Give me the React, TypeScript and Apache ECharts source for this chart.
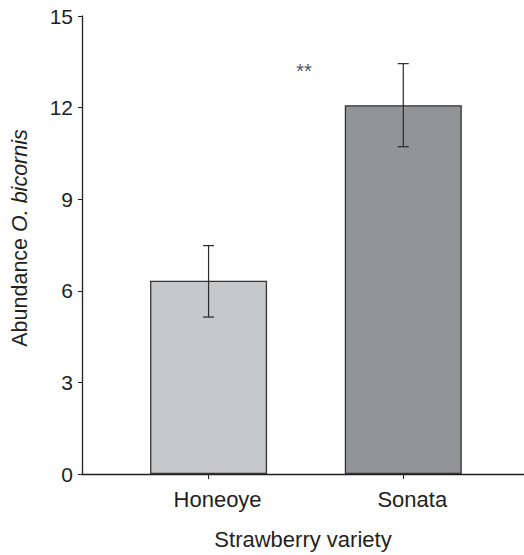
import React, { useEffect, useRef } from "react";
import * as echarts from "echarts";

const categories = ["Honeoye", "Sonata"];
const positions = [1, 2];
const means = [6.33, 12.08];
const errLow = [5.14, 10.72];
const errHigh = [7.48, 13.44];
const barColors = ["#c7c8ca", "#939498"];
const yTicks = { min: 0, max: 15, interval: 3 };
const significance = [[1.49, 13.2]];
const significanceLabel = "**";

const FONT = "Liberation Sans, Arial, Helvetica, sans-serif";
const INK = "#231f20";

export default function App() {
  const ref = useRef<HTMLDivElement>(null);
  useEffect(() => {
    if (!ref.current) return;
    const chart = echarts.init(ref.current, null, { renderer: "svg" });
    chart.setOption({
      animation: false,
      backgroundColor: "#ffffff",
      textStyle: { fontFamily: FONT, color: INK },
      grid: { left: 82, right: 0, top: 16, bottom: 75, containLabel: false },
      xAxis: {
        type: "value",
        min: 0.35,
        max: 2.62,
        name: "Strawberry variety",
        nameLocation: "middle",
        nameGap: 54,
        nameTextStyle: { fontSize: 22, color: INK, fontFamily: FONT },
        splitLine: { show: false },
        axisLine: { show: true, onZero: false, lineStyle: { color: INK, width: 1.3 } },
        axisTick: { show: true, customValues: positions, length: 5, lineStyle: { color: INK, width: 1 } },
        axisLabel: {
          customValues: positions,
          formatter: (v: number) => categories[positions.indexOf(Math.round(v))] ?? "",
          fontSize: 22,
          color: INK,
          margin: 14,
          padding: [0, 0, 0, 18],
          fontFamily: FONT,
        },
      },
      yAxis: {
        type: "value",
        min: yTicks.min,
        max: yTicks.max,
        interval: yTicks.interval,
        name: "{a|Abundance }{b|O. bicornis}",
        nameLocation: "middle",
        nameGap: 51,
        nameTextStyle: {
          padding: [0, 0, 0, 14],
          rich: {
            a: { fontSize: 21.5, color: INK, fontFamily: FONT },
            b: { fontSize: 21.5, color: INK, fontFamily: FONT, fontStyle: "italic" },
          },
        },
        splitLine: { show: false },
        axisLine: { show: true, lineStyle: { color: INK, width: 1.3 } },
        axisTick: { show: true, length: 4, lineStyle: { color: INK, width: 1 } },
        axisLabel: { fontSize: 21, color: INK, margin: 9, fontFamily: FONT },
      },
      series: [
        {
          type: "bar",
          barWidth: 117,
          data: means.map((m, i) => ({
            value: [positions[i], m],
            itemStyle: { color: barColors[i], borderColor: "#333333", borderWidth: 1.3 },
          })),
        },
        {
          type: "custom",
          z: 5,
          data: positions.map((p, i) => [p, errLow[i], errHigh[i]]),
          renderItem: (_params: any, api: any) => {
            const x = api.value(0);
            const lo = api.coord([x, api.value(1)]);
            const hi = api.coord([x, api.value(2)]);
            const cap = 5.5;
            const style = { stroke: "#2a2a2a", lineWidth: 1.2 };
            return {
              type: "group",
              children: [
                { type: "line", shape: { x1: lo[0], y1: lo[1], x2: hi[0], y2: hi[1] }, style },
                { type: "line", shape: { x1: hi[0] - cap, y1: hi[1], x2: hi[0] + cap, y2: hi[1] }, style },
                { type: "line", shape: { x1: lo[0] - cap, y1: lo[1], x2: lo[0] + cap, y2: lo[1] }, style },
              ],
            };
          },
        },
        {
          type: "scatter",
          symbolSize: 0,
          data: significance,
          label: {
            show: true,
            position: "inside",
            formatter: () => significanceLabel,
            fontSize: 20,
            color: INK,
            fontFamily: FONT,
          },
        },
      ],
    });
    return () => chart.dispose();
  }, []);
  return (
    <div
      ref={ref}
      style={{ position: "absolute", left: 0, top: 0, width: 524, height: 555 }}
    />
  );
}
